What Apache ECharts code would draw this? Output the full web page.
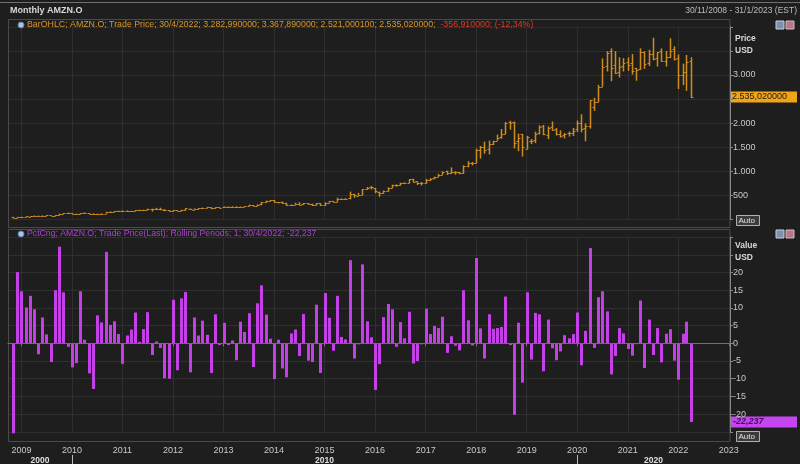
<!DOCTYPE html>
<html><head><meta charset="utf-8">
<script src="https://cdn.jsdelivr.net/npm/echarts@6/dist/echarts.min.js"></script>
<style>html,body{margin:0;padding:0;background:#1e1e1e;}#c{width:800px;height:464px;}</style>
</head><body><div id="c"></div>
<script>
const months = [
'2008-11','2008-12',
'2009-01','2009-02','2009-03','2009-04','2009-05','2009-06','2009-07','2009-08','2009-09','2009-10','2009-11','2009-12',
'2010-01','2010-02','2010-03','2010-04','2010-05','2010-06','2010-07','2010-08','2010-09','2010-10','2010-11','2010-12',
'2011-01','2011-02','2011-03','2011-04','2011-05','2011-06','2011-07','2011-08','2011-09','2011-10','2011-11','2011-12',
'2012-01','2012-02','2012-03','2012-04','2012-05','2012-06','2012-07','2012-08','2012-09','2012-10','2012-11','2012-12',
'2013-01','2013-02','2013-03','2013-04','2013-05','2013-06','2013-07','2013-08','2013-09','2013-10','2013-11','2013-12',
'2014-01','2014-02','2014-03','2014-04','2014-05','2014-06','2014-07','2014-08','2014-09','2014-10','2014-11','2014-12',
'2015-01','2015-02','2015-03','2015-04','2015-05','2015-06','2015-07','2015-08','2015-09','2015-10','2015-11','2015-12',
'2016-01','2016-02','2016-03','2016-04','2016-05','2016-06','2016-07','2016-08','2016-09','2016-10','2016-11','2016-12',
'2017-01','2017-02','2017-03','2017-04','2017-05','2017-06','2017-07','2017-08','2017-09','2017-10','2017-11','2017-12',
'2018-01','2018-02','2018-03','2018-04','2018-05','2018-06','2018-07','2018-08','2018-09','2018-10','2018-11','2018-12',
'2019-01','2019-02','2019-03','2019-04','2019-05','2019-06','2019-07','2019-08','2019-09','2019-10','2019-11','2019-12',
'2020-01','2020-02','2020-03','2020-04','2020-05','2020-06','2020-07','2020-08','2020-09','2020-10','2020-11','2020-12',
'2021-01','2021-02','2021-03','2021-04','2021-05','2021-06','2021-07','2021-08','2021-09','2021-10','2021-11','2021-12',
'2022-01','2022-02','2022-03','2022-04'];

const openP = [
56.5,42.1,
51.4,58.3,63.8,72.3,81.0,78.7,83.9,85.3,80.8,93.0,119.0,136.0,
136.0,123.0,118.7,135.8,137.0,124.9,110.5,118.0,125.0,157.1,164.6,176.8,
181.4,170.5,173.5,181.6,196.6,196.0,205.9,221.0,213.5,212.0,209.2,193.5,
175.9,191.3,180.3,202.0,229.7,208.0,227.0,233.4,246.0,252.0,234.2,253.0,
256.1,267.4,263.5,266.2,255.9,267.2,277.7,304.4,281.8,314.2,365.0,394.0,
398.8,357.0,357.1,338.1,304.1,313.0,325.9,313.7,338.8,322.0,306.0,338.0,
312.6,350.0,380.9,372.1,423.8,430.4,439.3,536.4,496.5,512.0,627.1,673.8,
656.3,578.2,556.3,590.5,663.9,720.0,712.0,759.9,769.3,836.0,790.9,752.4,
757.9,829.2,853.1,888.0,927.8,998.6,972.8,996.1,984.2,964.0,1105.4,1172.1,
1172.0,1445.0,1513.6,1456.0,1577.0,1637.0,1707.0,1784.0,2026.5,2021.99,1623.53,1769.46,
1465.2,1638.88,1655.13,1800.11,1933.09,1760.01,1922.98,1871.72,1770.0,1746.0,1788.01,1804.4,
1875.0,2010.6,1906.49,1932.97,2336.8,2448.0,2757.99,3180.51,3489.58,3208.0,3061.74,3188.5,
3270.0,3242.36,3143.47,3117.94,3484.73,3243.5,3434.61,3353.1,3496.4,3289.0,3379.99,3545.0,
3351.0,3000.0,3054.65,3282.99];

const highP = [
58.0,56.6,
59.4,71.4,77.0,84.3,83.6,89.7,92.4,86.0,97.0,123.0,138.0,145.9,
137.3,123.0,137.3,151.1,138.7,129.9,123.3,130.0,161.0,170.2,177.3,185.6,
191.6,191.4,181.6,197.8,206.4,206.0,227.2,227.5,244.0,246.7,219.0,198.6,
197.8,191.8,204.9,232.4,231.9,230.8,234.3,249.9,264.1,252.8,253.3,262.2,
275.0,274.3,276.6,276.6,272.0,283.0,310.7,305.0,314.8,367.0,394.8,407.1,
407.0,365.1,376.0,349.6,315.0,350.0,361.0,342.5,345.6,332.1,342.5,341.7,
359.5,389.4,388.4,452.7,439.0,444.0,580.6,536.9,555.0,634.2,678.6,696.4,
657.7,581.8,603.2,669.3,724.2,731.5,766.0,774.5,838.5,847.2,791.5,779.3,
843.8,860.9,890.4,949.6,1001.2,1017.0,1083.3,1002.9,988.2,1122.8,1213.4,1194.8,
1472.58,1528.7,1617.54,1638.1,1635.0,1763.1,1880.05,2025.57,2050.5,2033.19,1784.0,1778.34,
1736.41,1673.06,1823.75,1956.34,1964.4,1935.2,2035.8,1897.92,1853.66,1798.85,1824.69,1901.4,
2055.72,2185.95,1996.33,2475.0,2525.45,2796.0,3344.29,3495.0,3552.25,3496.24,3366.8,3350.65,
3363.89,3434.1,3149.9,3554.0,3490.9,3524.86,3773.08,3472.58,3551.0,3498.63,3762.15,3595.0,
3428.0,3235.0,3415.0,3367.89];

const lowP = [
34.68,39.7,
47.6,57.7,61.2,70.1,74.2,77.1,75.2,78.5,79.5,89.0,116.0,125.5,
116.8,111.9,117.6,130.9,118.5,108.2,105.8,116.0,124.0,150.5,156.3,171.0,
166.9,170.0,160.6,175.8,190.9,181.6,199.3,166.9,198.3,195.0,175.1,170.5,
172.0,175.5,178.4,184.5,209.9,207.5,210.3,229.4,239.8,215.3,228.0,243.0,
252.0,256.4,256.1,245.9,252.4,266.3,277.0,278.9,281.5,296.0,349.6,380.0,
354.0,338.0,331.0,284.4,285.2,308.9,304.6,304.6,315.0,284.0,295.5,285.2,
285.3,349.5,367.9,368.6,417.1,419.4,420.4,452.0,495.0,506.0,620.0,625.1,
547.2,474.0,538.6,585.3,656.0,682.1,708.2,752.3,755.9,774.0,719.0,710.1,
747.7,803.0,833.2,884.5,927.8,927.0,951.0,931.8,940.2,950.4,1086.9,1124.7,
1170.51,1265.93,1365.2,1352.88,1546.0,1635.09,1678.06,1776.02,1865.0,1476.36,1420.0,1307.0,
1460.93,1566.76,1586.57,1767.01,1751.78,1672.0,1849.44,1743.51,1701.21,1685.06,1722.71,1735.0,
1815.34,1811.13,1626.03,1889.15,2256.38,2437.13,2754.0,3073.0,2871.0,3019.0,2950.0,3072.82,
3086.0,3009.99,2881.0,3104.0,3127.37,3185.0,3306.98,3175.76,3273.99,3176.25,3350.0,3302.0,
2707.04,2790.0,2671.45,2521.0];

const closeP = [
42.70,51.28,
58.82,64.79,73.44,80.52,77.99,83.66,85.76,81.19,93.36,118.81,135.91,134.52,
125.41,118.40,135.77,137.10,125.46,109.26,117.89,124.83,157.06,165.23,175.40,180.00,
169.64,173.29,180.13,195.81,196.69,204.49,222.52,215.23,216.23,213.51,192.29,173.10,
194.44,179.69,202.51,231.90,212.91,228.35,233.30,248.27,254.32,232.89,252.05,250.87,
265.50,264.27,266.49,253.81,269.20,277.69,301.22,280.98,312.64,364.03,393.62,398.79,
358.69,362.10,336.37,304.13,312.55,324.78,312.99,339.04,322.44,305.46,338.64,310.35,
354.53,380.16,372.10,421.78,429.23,434.09,536.15,512.89,511.89,625.90,664.80,675.89,
587.00,552.52,593.64,659.59,722.79,715.62,758.81,769.16,837.31,789.82,750.57,749.87,
823.48,845.04,886.54,924.99,994.62,968.00,987.78,980.60,961.35,1105.28,1176.75,1169.47,
1450.89,1512.45,1447.34,1566.13,1629.62,1699.80,1777.44,2012.71,2003.00,1598.01,1690.17,1501.97,
1718.73,1639.83,1780.75,1926.52,1775.07,1893.63,1866.78,1776.29,1735.91,1776.66,1800.80,1847.84,
2008.72,1883.75,1949.72,2474.00,2442.37,2758.82,3164.68,3450.96,3148.73,3036.15,3168.04,3256.93,
3206.20,3092.93,3094.08,3467.42,3223.07,3440.16,3327.59,3470.79,3285.04,3372.43,3507.07,3334.34,
2991.47,3071.26,3259.95,2535.02];

const pctChange = [
-25.4,20.1,
14.7,10.1,13.4,9.6,-3.1,7.3,2.5,-5.3,15.0,27.3,14.4,-1.0,
-6.8,-5.6,14.7,1.0,-8.5,-12.9,7.9,5.9,25.8,5.2,6.2,2.6,
-5.8,2.2,3.9,8.7,0.4,4.0,8.8,-3.3,0.5,-1.3,-9.9,-10.0,
12.3,-7.6,12.7,14.5,-8.2,7.3,2.2,6.4,2.4,-8.4,8.2,-0.5,
5.8,-0.5,0.8,-4.8,6.1,3.2,8.5,-6.7,11.3,16.4,8.1,1.3,
-10.1,1.0,-7.1,-9.6,2.8,3.9,-3.6,8.3,-4.9,-5.3,10.9,-8.4,
14.2,7.2,-2.1,13.4,1.8,1.1,23.5,-4.3,-0.2,22.3,6.2,1.7,
-13.2,-5.9,7.4,11.1,9.6,-1.0,6.0,1.4,8.9,-5.7,-5.0,-0.1,
9.8,2.6,4.9,4.3,7.5,-2.7,2.0,-0.7,-2.0,15.0,6.5,-0.6,
24.1,4.2,-4.3,8.2,4.1,4.3,4.6,13.2,-0.5,-20.2,5.8,-11.1,
14.4,-4.6,8.6,8.2,-7.9,6.7,-1.4,-4.8,-2.3,2.3,1.4,2.6,
8.7,-6.2,3.5,26.9,-1.3,13.0,14.7,9.0,-8.8,-3.6,4.3,2.8,
-1.6,-3.5,0.04,12.1,-7.0,6.7,-3.3,4.3,-5.4,2.7,4.0,-4.9,
-10.3,2.7,6.1,-22.237];

const yearTicks = ['2009-01-01','2010-01-01','2011-01-01','2012-01-01','2013-01-01','2014-01-01','2015-01-01',
  '2016-01-01','2017-01-01','2018-01-01','2019-01-01','2020-01-01','2021-01-01','2022-01-01','2023-01-01'];
const priceTicksHidden = [0, 2500, 3500, 4000];
const valueTicksHidden = [30, 25, -25];
const lastPrice = 2535.02;
const lastPct = -22.237;
const decades = [['2000','2008-09-26','2010-01-01'],['2010','2010-01-01','2020-01-01'],['2020','2020-01-01','2023-01-10']];

const ORANGE = '#d08c1a';
const MAGENTA = '#c43fe8';
const FONT = 'Liberation Sans';
const X_MIN = '2008-09-26', X_MAX = '2023-01-10';

function fmtThousands(v){ return String(v).replace(/\B(?=(\d{3})+(?!\d))/g, '.'); }

const ohlcData = months.map((m,i)=>[m+'-01', openP[i], highP[i], lowP[i], closeP[i]]);
const pctData = months.map((m,i)=>[m+'-01', pctChange[i]]);

function renderOHLC(params, api){
  const t = api.value(0);
  const o = api.coord([t, api.value(1)]);
  const h = api.coord([t, api.value(2)]);
  const l = api.coord([t, api.value(3)]);
  const c = api.coord([t, api.value(4)]);
  const x = Math.round(h[0]) + 0.5;
  const st = {stroke: ORANGE, lineWidth: 1};
  return {type:'group', children:[
    {type:'line', shape:{x1:x, y1:h[1], x2:x, y2:l[1]}, style:{stroke: ORANGE, lineWidth: 1.5}},
    {type:'line', shape:{x1:x-2, y1:Math.round(o[1])+0.5, x2:x, y2:Math.round(o[1])+0.5}, style:st},
    {type:'line', shape:{x1:x, y1:Math.round(c[1])+0.5, x2:x+2, y2:Math.round(c[1])+0.5}, style:st}
  ]};
}
function renderBar(params, api){
  const t = api.value(0), v = api.value(1);
  const p0 = api.coord([t, 0]);
  const p1 = api.coord([t, v]);
  const x = Math.round(p0[0]) - 1;
  return {type:'rect', shape:{x:x, y:Math.min(p0[1],p1[1]), width:3, height:Math.max(1,Math.abs(p1[1]-p0[1]))},
    style:{fill:MAGENTA}};
}

const chart = echarts.init(document.getElementById('c'));
const gridLine = {show:true, lineStyle:{color:'#2f2f2f', width:1}};
const axisLbl = {color:'#c8c8c8', fontSize:9, fontFamily:FONT};

chart.setOption({
  backgroundColor:'#1e1e1e',
  animation:false,
  textStyle:{fontFamily:FONT},
  grid:[
    {left:8, right:70, top:26.8, height:192.8},
    {left:8, right:70, top:237.1, height:194.7}
  ],
  xAxis:[
    {type:'time', gridIndex:0, min:X_MIN, max:X_MAX, splitNumber:14,
     minInterval:365*864e5, maxInterval:366*864e5,
     axisLabel:{show:false}, axisTick:{show:false}, axisLine:{show:false}, splitLine:gridLine},
    {type:'time', gridIndex:1, min:X_MIN, max:X_MAX, splitNumber:14,
     minInterval:365*864e5, maxInterval:366*864e5, offset:10,
     axisLabel:Object.assign({formatter:'{yyyy}', margin:4, hideOverlap:false, customValues:yearTicks}, axisLbl),
     axisTick:{show:true, length:3, lineStyle:{color:'#777'}, customValues:yearTicks},
     axisLine:{show:true, lineStyle:{color:'#777'}}, splitLine:gridLine}
  ],
  yAxis:[
    {type:'value', gridIndex:0, position:'right', min:0, max:4000, interval:500,
     axisLine:{show:true, lineStyle:{color:'#888'}},
     axisTick:{show:true, length:3, lineStyle:{color:'#888'}},
     axisLabel:Object.assign({margin:3, formatter:v=>priceTicksHidden.includes(v)?'':fmtThousands(v)}, axisLbl),
     splitLine:gridLine},
    {type:'value', gridIndex:1, position:'right', min:-25, max:30, interval:5,
     axisLine:{show:true, lineStyle:{color:'#888'}},
     axisTick:{show:true, length:3, lineStyle:{color:'#888'}},
     axisLabel:Object.assign({margin:3, formatter:v=>valueTicksHidden.includes(v)?'':String(v)}, axisLbl),
     splitLine:gridLine}
  ],
  series:[
    {type:'custom', xAxisIndex:0, yAxisIndex:0, renderItem:renderOHLC,
     dimensions:['date','open','high','low','close'], encode:{x:0, y:[1,2,3,4]}, data:ohlcData, clip:false},
    {type:'line', xAxisIndex:1, yAxisIndex:1, data:[], silent:true,
     markLine:{silent:true, symbol:'none', label:{show:false}, animation:false,
       lineStyle:{color:'#9a4cb0', width:1, type:'solid'}, data:[{yAxis:0}]}},
    {type:'custom', xAxisIndex:1, yAxisIndex:1, renderItem:renderBar,
     dimensions:['date','pct'], encode:{x:0, y:1}, data:pctData, clip:false}
  ]
});

const pY = chart.convertToPixel({yAxisIndex:0}, lastPrice);
const vY = chart.convertToPixel({yAxisIndex:1}, lastPct);
const g = [];
g.push({type:'line', shape:{x1:0,y1:2.5,x2:800,y2:2.5}, style:{stroke:'#707070', lineWidth:1}});
g.push({type:'rect', shape:{x:8.5,y:19.5,width:721.5,height:208}, style:{fill:'none', stroke:'#4a4a4a', lineWidth:1}});
g.push({type:'rect', shape:{x:8.5,y:229.5,width:721.5,height:212}, style:{fill:'none', stroke:'#4a4a4a', lineWidth:1}});
g.push({type:'text', x:10, y:6, style:{text:'Monthly AMZN.O', fill:'#d8d8d8', font:'bold 9px '+FONT}});
g.push({type:'text', x:797, y:6, style:{text:'30/11/2008 - 31/1/2023 (EST)', fill:'#bdbdbd', font:'8.5px '+FONT, align:'right'}});
g.push({type:'circle', shape:{cx:21, cy:25, r:3}, style:{fill:'#a9c3e0', stroke:'#5d7da8'}});
g.push({type:'circle', shape:{cx:21, cy:234, r:3}, style:{fill:'#a9c3e0', stroke:'#5d7da8'}});
g.push({type:'text', x:27, y:20.5, style:{
  text:'{a|BarOHLC; AMZN.O; Trade Price; 30/4/2022; 3.282,990000; 3.367,890000; 2.521,000100; 2.535,020000;}{r|  -356,910000; (-12,34%)}',
  rich:{a:{fill:'#d8962a', font:'8.8px '+FONT}, r:{fill:'#e03a2a', font:'8.8px '+FONT}}}});
g.push({type:'text', x:27, y:229.5, style:{text:'PctCng; AMZN.O; Trade Price(Last); Rolling Periods; 1; 30/4/2022; -22,237', fill:'#a844cc', font:'8.7px '+FONT}});
g.push({type:'text', x:735, y:33, style:{text:'Price\nUSD', fill:'#d8d8d8', font:'bold 8.5px '+FONT, lineHeight:12}});
g.push({type:'text', x:735, y:240, style:{text:'Value\nUSD', fill:'#d8d8d8', font:'bold 8.5px '+FONT, lineHeight:12}});
[21, 230].forEach(yy=>{
  g.push({type:'rect', shape:{x:776,y:yy,width:8,height:8}, style:{fill:'#7f8fae', stroke:'#c8d0e0'}});
  g.push({type:'rect', shape:{x:786,y:yy,width:8,height:8}, style:{fill:'#b07a86', stroke:'#d8b8c0'}});
});
g.push({type:'rect', shape:{x:730,y:Math.round(pY)-5.5,width:67,height:11}, style:{fill:'#f0a418'}});
g.push({type:'text', x:732, y:Math.round(pY)-5, style:{text:'2.535,020000', fill:'#1a1a1a', font:'9px '+FONT}});
g.push({type:'rect', shape:{x:730,y:Math.round(vY)-5.5,width:67,height:11}, style:{fill:'#c546ef'}});
g.push({type:'text', x:733, y:Math.round(vY)-5, style:{text:'-22,237', fill:'#4a0a60', font:'italic bold 9px '+FONT}});
[215.5, 431.5].forEach(yy=>{
  g.push({type:'rect', shape:{x:736.5,y:yy,width:23,height:10}, style:{fill:'#3c3c3c', stroke:'#b0b0b0'}});
  g.push({type:'text', x:738.5, y:yy+1, style:{text:'Auto', fill:'#e0e0e0', font:'8px '+FONT}});
});
decades.forEach(([lab, a, b], i)=>{
  const xa = chart.convertToPixel({xAxisIndex:1}, a);
  const xb = chart.convertToPixel({xAxisIndex:1}, b);
  if(i>0) g.push({type:'line', shape:{x1:Math.round(xa)+0.5,y1:455,x2:Math.round(xa)+0.5,y2:464}, style:{stroke:'#bbbbbb', lineWidth:1}});
  g.push({type:'text', x:(xa+xb)/2, y:456, style:{text:lab, fill:'#e0e0e0', font:'bold 8.5px '+FONT, align:'center'}});
});
chart.setOption({graphic:{elements:g}});
</script></body></html>
